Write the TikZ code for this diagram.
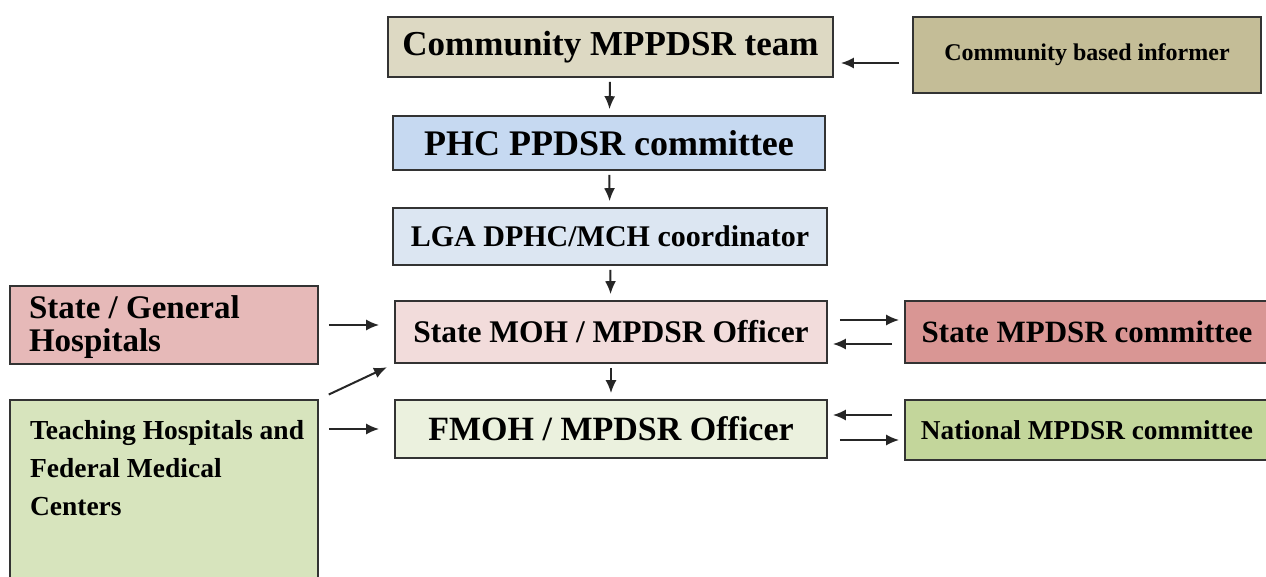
\documentclass[tikz,border=0pt]{standalone}
\usepackage{fontspec}
\setmainfont{Liberation Serif}
\usetikzlibrary{arrows.meta, positioning}

\definecolor{commfill}{HTML}{DDD9C3}
\definecolor{informfill}{HTML}{C4BD97}
\definecolor{phcfill}{HTML}{C6D9F1}
\definecolor{lgafill}{HTML}{DCE6F2}
\definecolor{hospfill}{HTML}{E6B9B8}
\definecolor{mohfill}{HTML}{F2DCDB}
\definecolor{stcomfill}{HTML}{D99694}
\definecolor{teachfill}{HTML}{D7E4BD}
\definecolor{fmohfill}{HTML}{EBF1DE}
\definecolor{natfill}{HTML}{C3D69B}

\newcommand{\bsize}[1]{\bfseries\fontsize{#1}{38}\selectfont}

\begin{document}
\begin{tikzpicture}[x=1pt,y=-1pt,
 box/.style = {draw=black!80, line width=1.6pt, inner sep=0pt, align=center},
 arr/.style = {-{Latex[length=13pt,width=11pt]}, line width=2pt, black!85},
 down/.style = {arr, shorten <=4pt, shorten >=6pt},
 across/.style = {arr, shorten <=12pt, shorten >=5pt},
]
\useasboundingbox (0,0) rectangle (1266,576);

\node (comm)[box, font=\bsize{35}, fill=commfill, minimum width=445pt, minimum height=60pt]  at (610.5,47)  {Community MPPDSR team};
\node (inform)[box, font=\bsize{24}, fill=informfill, minimum width=348pt, minimum height=76pt] at (1087,55) {Community based informer};
\node (phc)[box, font=\bsize{36}, fill=phcfill, minimum width=432pt, minimum height=54pt]   at (609,143)  {PHC PPDSR committee};
\node (lga)[box, font=\bsize{30}, fill=lgafill, minimum width=434pt, minimum height=57pt]   at (610,236.5) {LGA DPHC/MCH coordinator};
\node (stmoh)[box, font=\bsize{31.5}, fill=mohfill, minimum width=432pt, minimum height=62pt] at (611,332)  {State MOH / MPDSR Officer};
\node (fmoh)[box, font=\bsize{34}, fill=fmohfill, minimum width=432pt, minimum height=58pt] at (611,429)  {FMOH / MPDSR Officer};

\node (sthosp)[box, font=\bsize{33}, fill=hospfill, minimum width=308pt, minimum height=78pt] at (164,325)
  {\parbox{270pt}{\raggedright\vspace{4pt}State / General\\[-5pt]Hospitals}};
\node (teach)[box, font=\bsize{27.5}, fill=teachfill, minimum width=308pt, minimum height=182pt] at (164,491)
  {\parbox[c][170pt][t]{290pt}{\raggedright\leftskip=11pt\vspace{14pt}Teaching Hospitals and\\Federal Medical\\Centers}};

\node (stcom)[box, font=\bsize{31}, fill=stcomfill, minimum width=364pt, minimum height=62pt] at (1087,332) {State MPDSR committee};
\node (natcom)[box, font=\bsize{27.3}, fill=natfill, minimum width=364pt, minimum height=60pt] at (1087,430) {National MPDSR committee};

\draw[down] (comm) -- (phc);
\draw[down] (phc) -- (lga);
\draw[down] (lga) -- (stmoh);
\draw[down] (stmoh) -- (fmoh);

\draw[arr, shorten <=13pt, shorten >=7pt] ([yshift=-8pt]inform.west) -- ([yshift=-8pt]inform.west -| comm.east);

\draw[across, shorten <=10pt, shorten >=15pt] (sthosp.east) -- (sthosp.east -| stmoh.west);
\draw[arr, shorten <=11pt, shorten >=8pt] (teach.north east) -- (stmoh.south west);
\draw[across, shorten <=10pt, shorten >=15pt] (fmoh.west -| teach.east) -- (fmoh.west);

\draw[across] ([yshift=12pt]stmoh.east) -- ([yshift=12pt]stmoh.east -| stcom.west);
\draw[across] ([yshift=-12pt]stmoh.east -| stcom.west) -- ([yshift=-12pt]stmoh.east);
\draw[across] ([yshift=14pt]fmoh.east -| natcom.west) -- ([yshift=14pt]fmoh.east);
\draw[across] ([yshift=-11pt]fmoh.east) -- ([yshift=-11pt]fmoh.east -| natcom.west);
\end{tikzpicture}
\end{document}
